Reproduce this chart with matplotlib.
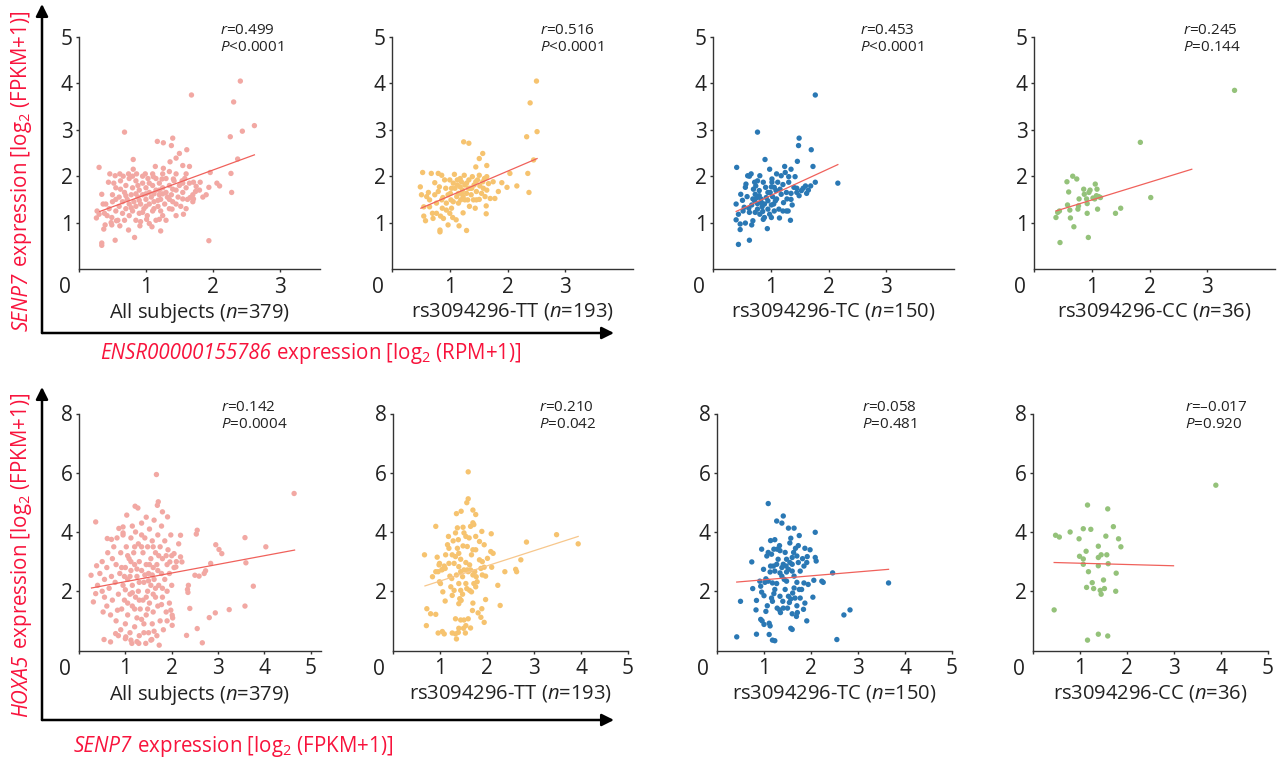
import numpy as np
import matplotlib
matplotlib.use("Agg")
import matplotlib.pyplot as plt

plt.rcParams['font.family'] = ['Open Sans', 'DejaVu Sans']
plt.rcParams['mathtext.fontset'] = 'custom'
plt.rcParams['mathtext.rm'] = 'Open Sans'
plt.rcParams['mathtext.it'] = 'Open Sans:italic'
plt.rcParams['mathtext.bf'] = 'Open Sans:bold'

# ---- data ----
# top row: ENSR00000155786 (x) vs SENP7 (y)
top_all = [
    (2.41, 4.05), (2.31, 3.60), (2.62, 3.09), (2.44, 2.97), (1.68, 3.75), (0.68, 2.95), (2.26, 2.85),
    (1.40, 2.82), (1.17, 2.75), (1.26, 2.72), (1.38, 2.66), (1.61, 2.57), (2.37, 2.37), (1.50, 2.49),
    (1.45, 2.39), (1.36, 2.31), (0.30, 2.19), (0.81, 2.36), (1.14, 2.21), (1.26, 2.17), (1.55, 2.23),
    (1.65, 2.21), (1.96, 2.08), (2.27, 2.06), (1.94, 1.76), (2.06, 1.85), (2.10, 1.79), (2.28, 1.65),
    (1.94, 0.61), (0.54, 0.62), (0.34, 0.56), (0.34, 0.51), (0.83, 0.68), (0.37, 0.86), (0.39, 0.95),
    (0.49, 0.95), (0.26, 1.10), (0.30, 1.18), (0.27, 1.25), (0.36, 1.40), (0.34, 1.61), (0.44, 1.87),
    (0.46, 2.05), (0.54, 2.01), (0.61, 2.05), (0.74, 2.05), (0.86, 2.05), (0.99, 2.05), (0.81, 2.15),
    (1.11, 1.99), (1.24, 1.94), (1.41, 1.94), (1.54, 1.90), (1.71, 1.87), (1.81, 1.87), (1.74, 1.67),
    (1.66, 1.54), (1.55, 1.51), (1.71, 1.51), (1.56, 1.18), (1.39, 1.29), (1.22, 0.82), (1.09, 0.91),
    (1.01, 1.07), (1.20, 1.07), (0.91, 0.93), (0.74, 0.84), (0.61, 0.93), (0.56, 1.04), (0.49, 1.11),
    (0.45, 1.30), (0.50, 1.45), (0.50, 1.60), (0.55, 1.25), (0.55, 1.75), (0.60, 1.35), (0.60, 1.55),
    (0.62, 1.90), (0.65, 1.20), (0.65, 1.45), (0.68, 1.65), (0.70, 1.30), (0.70, 1.80), (0.72, 1.50),
    (0.75, 1.15), (0.75, 1.40), (0.75, 1.95), (0.78, 1.60), (0.80, 1.25), (0.80, 1.75), (0.82, 1.45),
    (0.85, 1.05), (0.85, 1.35), (0.85, 1.90), (0.88, 1.55), (0.90, 1.20), (0.90, 1.70), (0.92, 1.40),
    (0.95, 1.60), (0.95, 1.85), (0.97, 1.30), (1.00, 1.50), (1.00, 1.75), (1.02, 1.15), (1.03, 1.95),
    (1.05, 1.40), (1.05, 1.65), (1.08, 1.55), (1.10, 1.25), (1.10, 1.80), (1.12, 1.45), (1.15, 1.70),
    (1.15, 1.95), (1.18, 1.35), (1.20, 1.60), (1.20, 1.85), (1.22, 1.50), (1.25, 1.15), (1.25, 1.75),
    (1.28, 1.40), (1.30, 1.65), (1.30, 1.95), (1.32, 1.55), (1.35, 1.30), (1.35, 1.80), (1.38, 1.60),
    (1.40, 1.45), (1.42, 1.90), (1.45, 1.70), (1.48, 1.55), (1.50, 1.80), (1.52, 1.35), (1.55, 1.65),
    (1.58, 1.95), (1.60, 1.75), (1.62, 1.50), (1.65, 1.85), (1.70, 1.60), (1.75, 1.78), (1.80, 1.70),
    (0.58, 1.05), (0.68, 1.05), (0.42, 1.15), (0.48, 1.00), (0.40, 1.40), (0.38, 1.20), (0.52, 1.85),
    (0.66, 2.00), (0.80, 2.00), (0.95, 2.00), (1.10, 2.05), (1.25, 2.05), (1.35, 2.10), (1.45, 2.05),
    (1.60, 2.05), (0.92, 1.02), (1.05, 0.98), (1.15, 1.05), (1.30, 1.05), (1.45, 1.15), (1.60, 1.30),
    (1.70, 1.45), (1.85, 1.55), (1.90, 1.60), (0.70, 1.58), (0.85, 1.62), (1.00, 1.62), (1.12, 1.62),
    (1.25, 1.62), (0.62, 1.72), (0.90, 1.48), (1.18, 1.48), (1.35, 1.50), (1.45, 1.40), (0.78, 1.32),
    (1.00, 1.35), (1.12, 1.30), (1.22, 1.25), (0.55, 1.50), (0.95, 1.22), (1.40, 1.72), (1.55, 1.85),
    (1.20, 1.70), (1.05, 1.85), (0.88, 1.80),
]
top_tt = [
    (2.50, 4.05), (2.39, 3.58), (2.51, 2.96), (2.33, 2.85), (1.24, 2.74), (1.33, 2.71), (1.57, 2.49),
    (1.51, 2.38), (1.64, 2.23), (1.45, 2.20), (2.45, 2.35), (2.35, 2.06), (2.04, 2.06), (1.90, 1.86),
    (1.99, 1.76), (2.16, 1.79), (2.37, 1.65), (1.75, 1.88), (1.84, 1.67), (1.70, 1.52), (1.78, 1.52),
    (1.63, 1.36), (1.63, 1.19), (0.53, 2.08), (0.49, 1.77), (0.51, 1.60), (0.55, 1.34), (0.55, 1.14),
    (0.58, 1.04), (0.68, 2.06), (0.63, 1.65), (0.65, 1.49), (0.70, 1.20), (0.71, 1.09), (0.74, 1.86),
    (0.77, 1.42), (0.80, 2.06), (0.80, 1.67), (0.83, 0.84), (0.83, 0.80), (0.84, 1.14), (0.86, 2.02),
    (0.87, 1.31), (0.88, 1.54), (0.91, 1.92), (0.93, 1.74), (0.94, 1.42), (0.97, 0.95), (1.00, 1.92),
    (1.01, 1.63), (1.02, 1.49), (1.03, 1.31), (1.05, 1.11), (1.06, 1.85), (1.08, 2.04), (1.09, 1.74),
    (1.11, 1.06), (1.12, 1.56), (1.13, 1.92), (1.15, 1.63), (1.16, 0.93), (1.18, 1.77), (1.19, 1.49),
    (1.20, 1.88), (1.22, 1.70), (1.23, 1.56), (1.23, 1.21), (1.25, 2.02), (1.26, 1.81), (1.29, 0.83),
    (1.29, 1.63), (1.31, 1.49), (1.33, 1.92), (1.34, 1.35), (1.35, 1.74), (1.37, 1.60), (1.39, 1.99),
    (1.41, 1.49), (1.42, 1.81), (1.44, 1.31), (1.46, 1.67), (1.48, 1.92), (1.51, 1.50), (1.52, 1.79),
    (1.55, 1.63), (1.57, 1.88), (1.58, 1.74), (1.60, 1.95), (1.61, 1.56), (1.64, 1.70), (1.67, 1.84),
    (0.89, 1.09), (0.94, 1.27), (0.74, 1.60), (0.60, 1.56), (0.82, 1.77), (1.03, 1.74), (1.13, 1.81),
    (1.18, 1.95), (1.32, 1.74), (1.38, 1.74), (1.26, 1.49), (1.15, 1.42), (1.06, 1.45), (0.97, 1.60),
    (1.20, 1.63), (1.29, 1.85), (1.45, 1.88), (1.51, 2.02), (0.86, 1.49), (0.65, 1.34), (0.77, 1.20),
    (1.00, 1.20), (1.46, 1.49), (1.64, 1.99),
]
top_tc = [
    (1.77, 3.75), (0.77, 2.95), (1.49, 2.82), (1.48, 2.66), (1.70, 2.57), (0.90, 2.36), (1.46, 2.32),
    (1.73, 2.21), (1.24, 2.21), (0.41, 2.19), (1.35, 2.15), (0.98, 2.15), (1.77, 1.87), (2.16, 1.85),
    (0.44, 0.53), (0.63, 0.62), (0.94, 0.87), (0.47, 0.85), (0.40, 1.06), (0.47, 0.97), (0.56, 0.99),
    (0.69, 1.04), (0.67, 0.95), (0.40, 1.40), (0.48, 1.61), (0.57, 1.83), (0.60, 2.01), (0.66, 2.05),
    (0.63, 2.00), (0.72, 1.87), (0.73, 1.61), (0.59, 1.56), (0.54, 1.33), (0.62, 1.31), (0.63, 1.22),
    (0.67, 1.38), (0.72, 1.47), (0.76, 1.54), (0.77, 1.41), (0.80, 1.69), (0.83, 1.51), (0.85, 1.34),
    (0.86, 1.24), (0.89, 1.11), (0.87, 1.07), (0.91, 1.76), (0.92, 1.54), (0.95, 1.47), (0.95, 1.29),
    (0.98, 1.18), (0.99, 1.65), (1.01, 1.77), (1.02, 1.94), (1.03, 1.56), (1.05, 1.40), (1.06, 1.25),
    (1.09, 1.69), (1.10, 1.51), (1.14, 1.29), (1.15, 1.10), (1.18, 2.01), (1.18, 1.61), (1.21, 1.82),
    (1.22, 1.43), (1.25, 2.08), (1.27, 1.65), (1.28, 1.51), (1.30, 1.25), (1.31, 1.87), (1.34, 1.05),
    (1.35, 1.63), (1.37, 1.38), (1.40, 1.76), (1.42, 1.99), (1.45, 1.65), (1.49, 1.58), (1.53, 1.69),
    (1.56, 1.74), (1.60, 1.79), (1.65, 1.70), (1.69, 1.79), (1.31, 1.99), (1.10, 2.05), (0.77, 1.90),
    (0.81, 2.01), (0.74, 1.79), (0.56, 1.76), (0.51, 1.48), (0.69, 1.51), (1.02, 1.87), (1.08, 1.47),
    (0.95, 1.65), (0.84, 1.43), (0.81, 1.18), (1.01, 1.11), (1.16, 1.72), (1.21, 1.25), (1.27, 1.25),
    (1.35, 1.50), (1.45, 1.74), (1.62, 1.63), (1.12, 1.87), (0.87, 1.87), (1.01, 1.38), (1.06, 1.76),
    (0.77, 1.29), (0.89, 1.40), (0.73, 1.22), (0.80, 1.58), (0.70, 1.72), (0.44, 1.18), (0.52, 1.25),
]
top_cc = [
    (0.38, 1.11), (0.41, 1.22), (0.44, 1.25), (0.45, 0.57), (0.57, 1.88), (0.58, 1.38), (0.60, 1.66),
    (0.62, 1.27), (0.63, 1.10), (0.67, 2.00), (0.69, 0.91), (0.74, 1.94), (0.76, 1.29), (0.77, 1.36),
    (0.78, 1.51), (0.86, 1.72), (0.87, 1.61), (0.91, 1.51), (0.92, 1.41), (0.92, 1.20), (0.94, 0.68),
    (0.95, 1.65), (0.97, 1.70), (1.02, 1.53), (1.06, 1.83), (1.05, 1.51), (1.08, 1.58), (1.09, 1.72),
    (1.10, 1.29), (1.12, 1.56), (1.15, 1.54), (1.41, 1.20), (1.50, 1.31), (1.84, 2.73), (2.02, 1.54),
    (3.47, 3.85),
]

# bottom row: SENP7 (x) vs HOXA5 (y)
bot_all = [
    (1.67, 5.94), (4.64, 5.30), (1.21, 4.87), (1.27, 4.81), (1.71, 5.02), (1.69, 4.90), (1.03, 4.57),
    (0.36, 4.34), (1.91, 4.51), (1.80, 4.68), (2.55, 4.06), (2.53, 3.93), (2.19, 3.89), (3.58, 3.81),
    (4.03, 3.50), (2.95, 3.57), (3.02, 3.41), (3.08, 3.27), (3.60, 2.96), (2.84, 2.94), (2.73, 2.69),
    (2.70, 2.60), (2.50, 2.54), (2.59, 2.51), (3.76, 2.17), (2.36, 2.20), (2.34, 2.06), (2.35, 1.96),
    (2.39, 1.42), (3.58, 1.50), (3.24, 1.38), (2.94, 1.27), (2.81, 1.11), (2.55, 0.74), (2.32, 0.51),
    (2.66, 0.26), (0.26, 2.54), (0.31, 1.64), (0.36, 1.92), (0.38, 2.86), (0.52, 1.30), (0.54, 0.37),
    (0.68, 0.29), (0.61, 3.78), (0.70, 3.75), (0.72, 3.10), (0.79, 0.57), (0.83, 1.36), (0.86, 4.12),
    (0.95, 4.17), (0.95, 3.97), (2.01, 0.85), (1.98, 1.36), (2.01, 1.19), (2.05, 3.27), (1.96, 2.99),
    (2.09, 2.82), (2.19, 3.16), (2.22, 2.99), (1.73, 0.18), (1.44, 0.24), (1.29, 0.24), (1.14, 0.24),
    (1.57, 0.37), (1.01, 0.46),
    (0.40, 2.20), (0.45, 2.60), (0.50, 2.00), (0.50, 3.00), (0.55, 1.80), (0.55, 2.40), (0.60, 1.50),
    (0.60, 2.80), (0.62, 3.30), (0.65, 2.10), (0.68, 1.20), (0.70, 2.50), (0.72, 1.70), (0.75, 3.50),
    (0.78, 2.30), (0.80, 1.00), (0.80, 2.90), (0.82, 3.80), (0.85, 1.90), (0.88, 2.60), (0.90, 0.70),
    (0.90, 3.30), (0.92, 1.40), (0.95, 2.20), (0.95, 3.90), (0.98, 1.70), (1.00, 2.80), (1.00, 0.90),
    (1.02, 3.50), (1.05, 2.40), (1.05, 1.20), (1.08, 3.10), (1.10, 1.90), (1.10, 0.60), (1.12, 2.70),
    (1.12, 3.80), (1.15, 1.50), (1.15, 2.20), (1.18, 3.30), (1.20, 0.80), (1.20, 2.90), (1.22, 1.80),
    (1.22, 4.00), (1.25, 2.50), (1.25, 1.10), (1.28, 3.60), (1.28, 2.00), (1.30, 0.50), (1.30, 3.00),
    (1.32, 1.40), (1.35, 2.70), (1.35, 4.30), (1.38, 3.30), (1.38, 1.70), (1.40, 2.30), (1.40, 0.90),
    (1.42, 3.80), (1.45, 2.90), (1.45, 1.20), (1.48, 2.00), (1.48, 3.50), (1.50, 0.60), (1.50, 2.60),
    (1.52, 4.10), (1.52, 1.60), (1.55, 3.10), (1.55, 2.20), (1.58, 0.90), (1.58, 3.70), (1.60, 2.80),
    (1.60, 1.30), (1.62, 4.40), (1.62, 2.40), (1.65, 1.80), (1.65, 3.30), (1.68, 0.50), (1.68, 2.90),
    (1.70, 3.90), (1.70, 1.50), (1.72, 2.20), (1.75, 3.50), (1.75, 1.00), (1.78, 2.60), (1.78, 4.20),
    (1.80, 1.80), (1.80, 3.10), (1.82, 0.70), (1.85, 2.40), (1.85, 3.70), (1.88, 1.30), (1.90, 2.90),
    (1.90, 2.00), (1.92, 3.40), (1.95, 1.60), (1.95, 2.60), (1.98, 3.90), (2.00, 2.20), (2.02, 1.10),
    (2.05, 2.80), (2.10, 3.00), (2.15, 3.60), (2.00, 3.20), (1.35, 3.90), (1.15, 4.20), (1.45, 4.50),
    (1.05, 3.20), (0.98, 2.50), (1.25, 2.75), (1.42, 2.55), (1.58, 2.55), (1.70, 2.70), (1.30, 2.30),
    (1.52, 2.90), (1.20, 3.50), (1.60, 3.50), (1.10, 2.50), (1.48, 1.40), (1.35, 1.05), (1.20, 1.40),
    (1.05, 1.60), (0.92, 2.80), (1.65, 2.10), (1.78, 1.55), (1.90, 1.00), (1.25, 0.30), (1.55, 0.35),
    (1.12, 0.35), (1.40, 0.60), (1.62, 0.65), (1.00, 0.40), (0.85, 0.50), (1.30, 1.70), (1.45, 1.80),
    (1.60, 1.90), (1.15, 1.95), (1.00, 2.05), (1.80, 2.10), (1.50, 2.35), (1.35, 3.50), (1.88, 3.20),
    (1.12, 3.00), (1.72, 3.20),
]
bot_tt = [
    (1.60, 6.03), (1.60, 5.12), (1.57, 4.99), (1.45, 4.70), (1.35, 4.62), (1.70, 4.74), (1.76, 4.59),
    (1.70, 4.31), (1.72, 4.25), (0.91, 4.19), (1.37, 4.14), (1.49, 4.16), (2.09, 3.94), (3.48, 3.91),
    (2.84, 3.66), (3.94, 3.60), (2.72, 3.06), (2.61, 2.74), (2.63, 2.66), (2.38, 2.66), (2.23, 2.20),
    (2.28, 1.52), (0.67, 3.23), (0.71, 0.84), (0.72, 1.41), (0.80, 1.24), (0.91, 1.22), (0.96, 0.59),
    (1.05, 0.64), (1.09, 0.56), (0.94, 3.15), (0.84, 2.49), (0.99, 2.32), (1.01, 2.26), (1.06, 1.98),
    (1.11, 1.67), (1.26, 0.59), (1.33, 0.56), (1.35, 0.39), (1.39, 0.61), (1.33, 1.07), (1.44, 1.03),
    (1.51, 1.03), (1.40, 0.75), (1.50, 0.75), (1.55, 0.84), (1.54, 0.59), (1.65, 0.76), (1.60, 1.07),
    (1.69, 1.35), (1.94, 0.95), (1.87, 1.12), (1.81, 1.27), (1.89, 1.41), (1.97, 1.72), (1.70, 1.60),
    (2.13, 3.28), (2.08, 3.34), (2.10, 2.81), (2.01, 3.11), (1.90, 3.00), (1.94, 3.57), (1.84, 3.68),
    (1.89, 4.02), (1.76, 3.85), (1.62, 3.80), (1.55, 3.85), (1.33, 3.97), (1.28, 3.70), (1.19, 3.45),
    (1.18, 3.85), (1.16, 3.57), (1.12, 3.23), (1.09, 2.85), (1.05, 2.74), (0.98, 2.89), (0.96, 2.66),
    (1.04, 2.72), (1.11, 2.77), (1.21, 2.51), (1.25, 2.43), (1.23, 2.15), (1.26, 1.86), (1.30, 2.03),
    (1.30, 2.94), (1.33, 3.17), (1.40, 3.28), (1.44, 3.08), (1.40, 2.83), (1.44, 2.66), (1.48, 2.49),
    (1.40, 2.26), (1.44, 2.03), (1.42, 1.75), (1.40, 1.58), (1.45, 1.69), (1.48, 1.90), (1.55, 2.26),
    (1.57, 2.09), (1.60, 2.66), (1.63, 2.89), (1.67, 3.23), (1.70, 3.40), (1.76, 3.40), (1.74, 2.66),
    (1.77, 2.49), (1.72, 2.26), (1.76, 2.15), (1.79, 2.32), (1.63, 2.03), (1.67, 1.98), (1.70, 2.55),
    (1.84, 3.06), (1.87, 2.77), (1.90, 2.55), (1.94, 2.81), (1.97, 2.51), (1.55, 2.97), (1.51, 2.72),
    (1.58, 3.51), (1.49, 3.53), (1.37, 3.45), (1.26, 3.23), (1.19, 2.94), (0.99, 2.94), (0.91, 2.66),
    (1.58, 2.72), (1.65, 2.72), (1.35, 2.55), (1.39, 3.74), (1.51, 3.97), (1.65, 4.19),
]
bot_tc = [
    (1.09, 4.96), (1.41, 4.54), (1.27, 4.37), (1.38, 4.30), (1.52, 4.13), (1.64, 4.13), (2.09, 3.99),
    (1.75, 3.88), (1.23, 3.74), (1.14, 3.71), (0.95, 3.42), (1.57, 3.79), (1.55, 3.63), (1.73, 3.54),
    (1.87, 3.45), (1.98, 3.40), (1.92, 3.17), (2.09, 3.14), (2.11, 3.02), (0.74, 2.99), (0.99, 2.74),
    (2.46, 2.62), (3.65, 2.28), (2.23, 2.34), (2.26, 2.30), (2.06, 2.37), (1.94, 2.23), (2.04, 1.80),
    (1.87, 1.60), (1.84, 1.39), (1.91, 1.00), (2.70, 1.20), (2.83, 1.37), (2.55, 0.37), (0.42, 0.46),
    (0.50, 1.66), (0.76, 2.09), (0.84, 1.69), (0.83, 1.37), (0.84, 0.55), (0.93, 1.05), (0.96, 1.00),
    (1.00, 0.88), (0.95, 1.97), (0.93, 2.17), (1.04, 1.32), (1.07, 1.51), (1.11, 0.92), (1.13, 0.83),
    (1.11, 0.54), (1.18, 0.35), (1.23, 0.33), (1.16, 1.77), (1.18, 1.66), (1.21, 1.92), (1.23, 2.06),
    (1.18, 2.28), (1.09, 2.34), (1.04, 2.42), (1.02, 2.30), (1.27, 2.26), (1.28, 1.43), (1.33, 1.37),
    (1.35, 1.28), (1.40, 1.66), (1.45, 2.06), (1.48, 2.34), (1.43, 2.40), (1.52, 1.83), (1.54, 1.62),
    (1.57, 1.74), (1.61, 1.94), (1.64, 2.11), (1.66, 1.77), (1.70, 1.51), (1.71, 1.28), (1.69, 1.15),
    (1.60, 1.24), (1.57, 0.75), (1.60, 0.71), (1.50, 1.43), (1.34, 2.62), (1.38, 2.80), (1.41, 2.91),
    (1.47, 2.85), (1.52, 2.74), (1.55, 2.97), (1.60, 3.14), (1.63, 3.31), (1.67, 3.45), (1.70, 3.19),
    (1.73, 2.97), (1.77, 2.68), (1.82, 3.10), (1.85, 2.85), (1.80, 2.06), (1.75, 2.06), (1.70, 2.30),
    (1.64, 2.51), (1.60, 2.68), (1.48, 3.08), (1.45, 3.31), (1.34, 3.37), (1.33, 3.54), (1.28, 3.42),
    (1.21, 3.42), (1.16, 3.25), (1.09, 3.31), (1.06, 3.19), (1.14, 2.85), (1.20, 2.85), (1.27, 2.91),
    (1.30, 3.08), (1.23, 2.68), (1.13, 2.65), (1.38, 2.51), (1.48, 2.65), (1.60, 2.91), (1.91, 2.97),
    (0.91, 2.34), (1.00, 1.85), (1.34, 1.83), (1.41, 1.43), (1.77, 1.77), (1.85, 2.28),
]
bot_cc = [
    (3.89, 5.58), (1.16, 4.91), (1.59, 4.78), (1.71, 4.18), (1.07, 4.11), (1.23, 4.09), (0.48, 3.89),
    (0.56, 3.83), (0.79, 4.00), (0.98, 3.77), (1.55, 3.86), (1.82, 3.77), (1.39, 3.52), (1.87, 3.50),
    (1.13, 3.35), (1.45, 3.23), (1.57, 3.23), (0.99, 3.18), (1.07, 3.09), (1.39, 3.14), (1.07, 2.91),
    (1.39, 2.86), (1.60, 2.93), (1.18, 2.66), (1.77, 2.61), (1.50, 2.38), (1.26, 2.29), (1.14, 2.13),
    (1.29, 2.09), (1.52, 2.09), (1.43, 2.03), (1.76, 2.00), (1.45, 1.90), (0.45, 1.37), (1.39, 0.55),
    (1.59, 0.49), (1.16, 0.35),
]

# regression lines as drawn: x0, y0, x1, y1
top_fits = [(0.31, 1.24, 2.62, 2.46), (0.50, 1.31, 2.51, 2.38),
            (0.40, 1.24, 2.16, 2.25), (0.38, 1.25, 2.73, 2.15)]
bot_fits = [(0.27, 2.11, 4.65, 3.39), (0.68, 2.18, 3.94, 3.85),
            (0.42, 2.31, 3.65, 2.74), (0.45, 2.97, 2.99, 2.86)]

top_stats = [('0.499', '<0.0001'), ('0.516', '<0.0001'), ('0.453', '<0.0001'), ('0.245', '=0.144')]
bot_stats = [('0.142', '=0.0004'), ('0.210', '=0.042'), ('0.058', '=0.481'), ('\u20130.017', '=0.920')]

groups = ['All subjects', 'rs3094296-TT', 'rs3094296-TC', 'rs3094296-CC']
group_n = [379, 193, 150, 36]

point_colors = ['#f2a8a3', '#f6c36f', '#2a78b4', '#94c27a']
top_line_colors = ['#f0615b', '#f0615b', '#f0615b', '#f0615b']
bot_line_colors = ['#f0615b', '#f7c78c', '#f0615b', '#f0615b']

label_red = '#f8133c'

W, H = 1282, 760
fig = plt.figure(figsize=(W / 100, H / 100), dpi=100)


def px_axes(left, top, width, height):
    return fig.add_axes([left / W, 1 - (top + height) / H, width / W, height / H])


def style_panel(ax, xmax, ymax, yticks, xticks, pts, fit, stats, color, line_color, label, stat_x):
    pts = np.array(pts)
    ax.scatter(pts[:, 0], pts[:, 1], s=15, color=color, edgecolors='none', zorder=2)
    ax.plot([fit[0], fit[2]], [fit[1], fit[3]], color=line_color, lw=0.9, zorder=3)
    ax.set_xlim(0, xmax)
    ax.set_ylim(0, ymax)
    for s in ['top', 'right']:
        ax.spines[s].set_visible(False)
    for s in ['left', 'bottom']:
        ax.spines[s].set_color('#333333')
        ax.spines[s].set_linewidth(1.0)
    ax.set_yticks(yticks)
    ax.set_xticks([0] + xticks)
    ax.set_xticklabels([''] + [str(t) for t in xticks])
    ax.tick_params(direction='out', length=2.5, width=1, colors='#333333', labelcolor='#222222',
                   labelsize=15, pad=2)
    ax.tick_params(axis='x', pad=3)
    ax.annotate('0', xy=(0, 0), xycoords='data', xytext=(-14, -19), textcoords='offset pixels',
                ha='center', va='center', fontsize=15, color='#222222')
    ax.set_xlabel(label, fontsize=14.5, color='#222222', labelpad=2.5)
    ax.text(stat_x, 0.99, r'$\it{r}$=' + stats[0] + '\n' + r'$\it{P}$' + stats[1],
            transform=ax.transAxes, ha='left', va='center', fontsize=11, color='#222222',
            linespacing=1.15)


top_data = [top_all, top_tt, top_tc, top_cc]
bot_data = [bot_all, bot_tt, bot_tc, bot_cc]
top_lefts = [79, 392, 713, 1034]
bot_lefts = [79, 393, 717, 1033]
top_stat_x = [0.585, 0.615, 0.61, 0.62]
bot_stat_x = [0.585, 0.62, 0.618, 0.648]

for i in range(4):
    ax = px_axes(top_lefts[i], 37, 241, 232)
    lab = groups[i] + r' ($\it{n}$=' + str(group_n[i]) + ')'
    style_panel(ax, 3.6 if i == 0 else 4.17, 5, [1, 2, 3, 4, 5], [1, 2, 3],
                top_data[i], top_fits[i], top_stats[i], point_colors[i], top_line_colors[i],
                lab, top_stat_x[i])

for i in range(4):
    width = 242 if i == 0 else 235
    ax = px_axes(bot_lefts[i], 413.5, width, 237)
    lab = groups[i] + r' ($\it{n}$=' + str(group_n[i]) + ')'
    style_panel(ax, 5.22 if i == 0 else 5.0, 8, [2, 4, 6, 8], [1, 2, 3, 4, 5],
                bot_data[i], bot_fits[i], bot_stats[i], point_colors[i], bot_line_colors[i],
                lab, bot_stat_x[i])

# big arrows framing each row
arrow = dict(arrowstyle='-|>', color='black', lw=1.8, mutation_scale=18, shrinkA=0, shrinkB=0)
for y0, ytop in [(760 - 333, 760 - 4), (760 - 720, 760 - 387)]:
    fig.add_artist(matplotlib.patches.FancyArrowPatch((42 / W, y0 / H), (42 / W, ytop / H),
                                                       transform=fig.transFigure, **arrow))
    fig.add_artist(matplotlib.patches.FancyArrowPatch((42 / W, y0 / H), (614 / W, y0 / H),
                                                       transform=fig.transFigure, **arrow))


def mixed_label(xc, yc, parts, rotation=0, size=14.8):
    # gene name italic (digits too), rest upright; centred on (xc, yc) in pixels from top-left
    texts = [fig.text(0, 0, s, style=st, fontsize=size, color=label_red, rotation=rotation,
                      rotation_mode='anchor', ha='left', va='baseline') for s, st in parts]
    renderer = fig.canvas.get_renderer()
    lengths = []
    for t in texts:
        bb = t.get_window_extent(renderer)
        lengths.append(bb.width if rotation == 0 else bb.height)
    total = sum(lengths)
    shift = size * 100 / 72 * 0.36
    if rotation == 0:
        x = xc - total / 2
        base = H - yc - shift
        for t, L in zip(texts, lengths):
            t.set_position((x / W, base / H))
            x += L
    else:
        y = H - yc - total / 2
        base = xc + shift
        for t, L in zip(texts, lengths):
            t.set_position((base / W, y / H))
            y += L


mixed_label(20, 171, [('SENP7', 'italic'), (r' expression [log$_{2}$ (FPKM+1)]', 'normal')], rotation=90)
mixed_label(311, 352, [('ENSR00000155786', 'italic'), (r' expression [log$_{2}$ (RPM+1)]', 'normal')])
mixed_label(20, 555, [('HOXA5', 'italic'), (r' expression [log$_{2}$ (FPKM+1)]', 'normal')], rotation=90)
mixed_label(233, 745, [('SENP7', 'italic'), (r' expression [log$_{2}$ (FPKM+1)]', 'normal')])

fig.savefig('out.png', dpi=100)
